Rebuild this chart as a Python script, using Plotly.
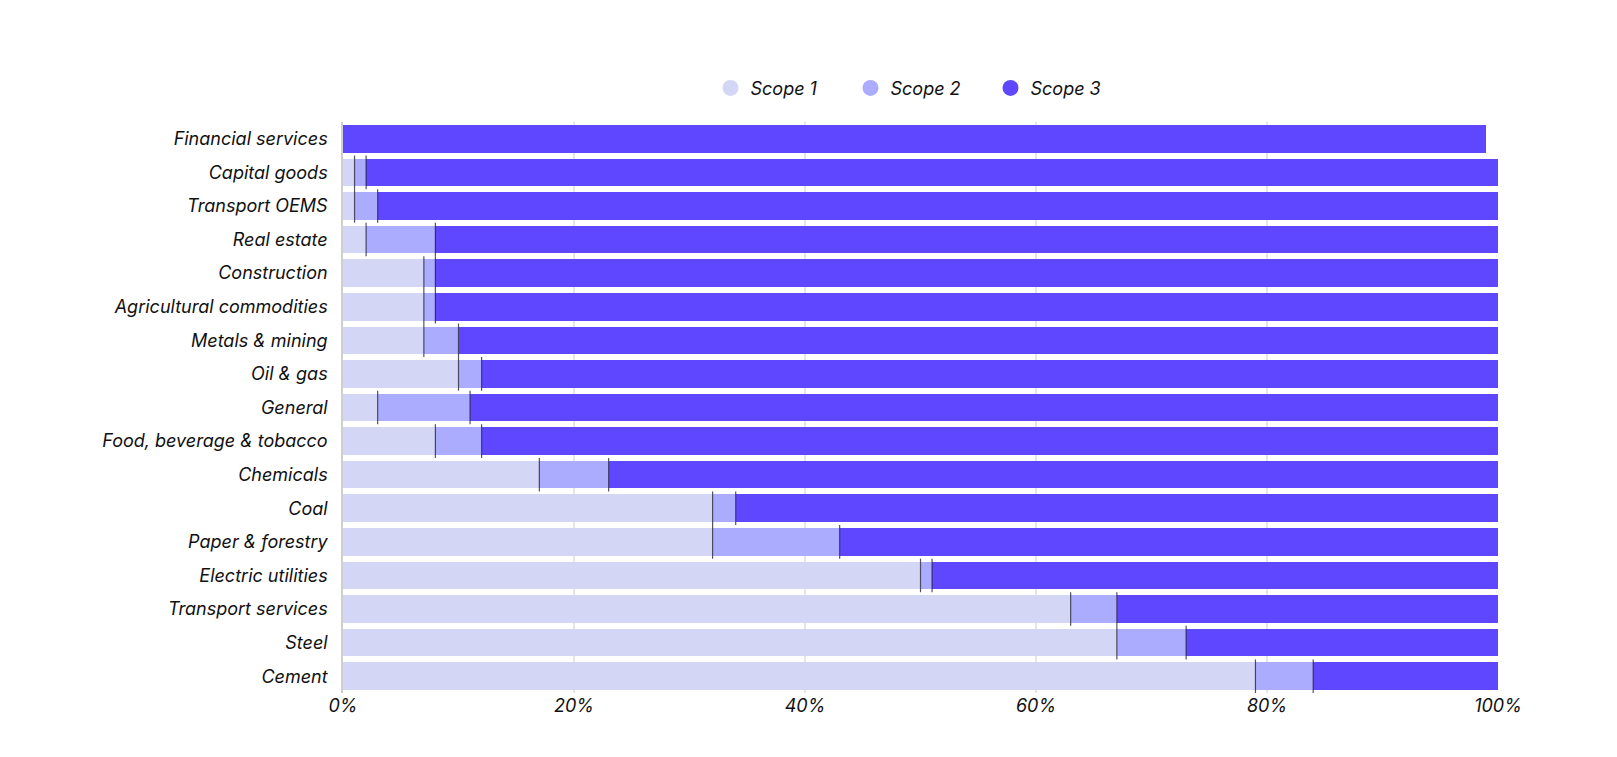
import plotly.graph_objects as go

# sector emissions split by scope, % of total
sectors = ["Financial services", "Capital goods", "Transport OEMS", "Real estate",
           "Construction", "Agricultural commodities", "Metals & mining", "Oil & gas",
           "General", "Food, beverage & tobacco", "Chemicals", "Coal",
           "Paper & forestry", "Electric utilities", "Transport services", "Steel", "Cement"]
scope1 = [0, 1, 1, 2, 7, 7, 7, 10, 3, 8, 17, 32, 32, 50, 63, 67, 79]
scope2 = [0, 1, 2, 6, 1, 1, 3, 2, 8, 4, 6, 2, 11, 1, 4, 6, 5]
scope3 = [99, 98, 97, 92, 92, 92, 90, 88, 89, 88, 77, 66, 57, 49, 33, 27, 16]

tick_vals = [0, 20, 40, 60, 80, 100]
tick_text = ["0%", "20%", "40%", "60%", "80%", "100%"]

colors = {"Scope 1": "#d4d6f5", "Scope 2": "#abacfe", "Scope 3": "#5e47ff"}
font_family = "Inter, Roboto, sans-serif"

fig = go.Figure()
for name, vals in [("Scope 1", scope1), ("Scope 2", scope2), ("Scope 3", scope3)]:
    fig.add_trace(go.Bar(
        y=sectors, x=vals, name=name, orientation="h",
        marker=dict(color=colors[name], line=dict(width=0)),
        showlegend=False, hoverinfo="x+y+name",
    ))

# thin dark divider at the end of the scope 1 and scope 2 segments
edge_x, edge_y = [], []
for s, a, b in zip(sectors, scope1, scope2):
    if a > 0:
        edge_x.append(a)
        edge_y.append(s)
    if b > 0:
        edge_x.append(a + b)
        edge_y.append(s)
fig.add_trace(go.Scatter(
    x=edge_x, y=edge_y, mode="markers", showlegend=False, hoverinfo="skip",
    marker=dict(symbol="line-ns", size=24, line=dict(width=1.2, color="rgba(40,40,60,0.8)")),
))

# legend entries with round swatches
for name in ["Scope 1", "Scope 2", "Scope 3"]:
    fig.add_trace(go.Scatter(
        x=[None], y=[None], mode="markers", name=name,
        marker=dict(symbol="circle", size=20, color=colors[name]),
    ))

fig.update_layout(
    width=1617, height=757,
    barmode="stack", bargap=0.18,
    plot_bgcolor="white", paper_bgcolor="white",
    margin=dict(l=335, r=127, t=114, b=72),
    font=dict(family=font_family, size=18, color="#111111", style="italic"),
    legend=dict(orientation="h", x=0.5, xanchor="center", y=0.894, yanchor="middle",
                yref="container", font=dict(size=18, style="italic"),
                itemsizing="trace", entrywidth=95, traceorder="normal"),
    xaxis=dict(range=[0, 100], tickvals=tick_vals, ticktext=tick_text,
               showgrid=True, gridcolor="#e6e6e6", gridwidth=1.5,
               zeroline=False, showline=False, fixedrange=True,
               tickfont=dict(size=18, style="italic")),
    yaxis=dict(range=[len(sectors) - 0.5, -0.5], showgrid=False, zeroline=False,
               showline=True, linecolor="#cfcfcf", linewidth=1.5,
               ticklabelstandoff=10, tickfont=dict(size=18, style="italic")),
)

fig.write_html("out.html")
